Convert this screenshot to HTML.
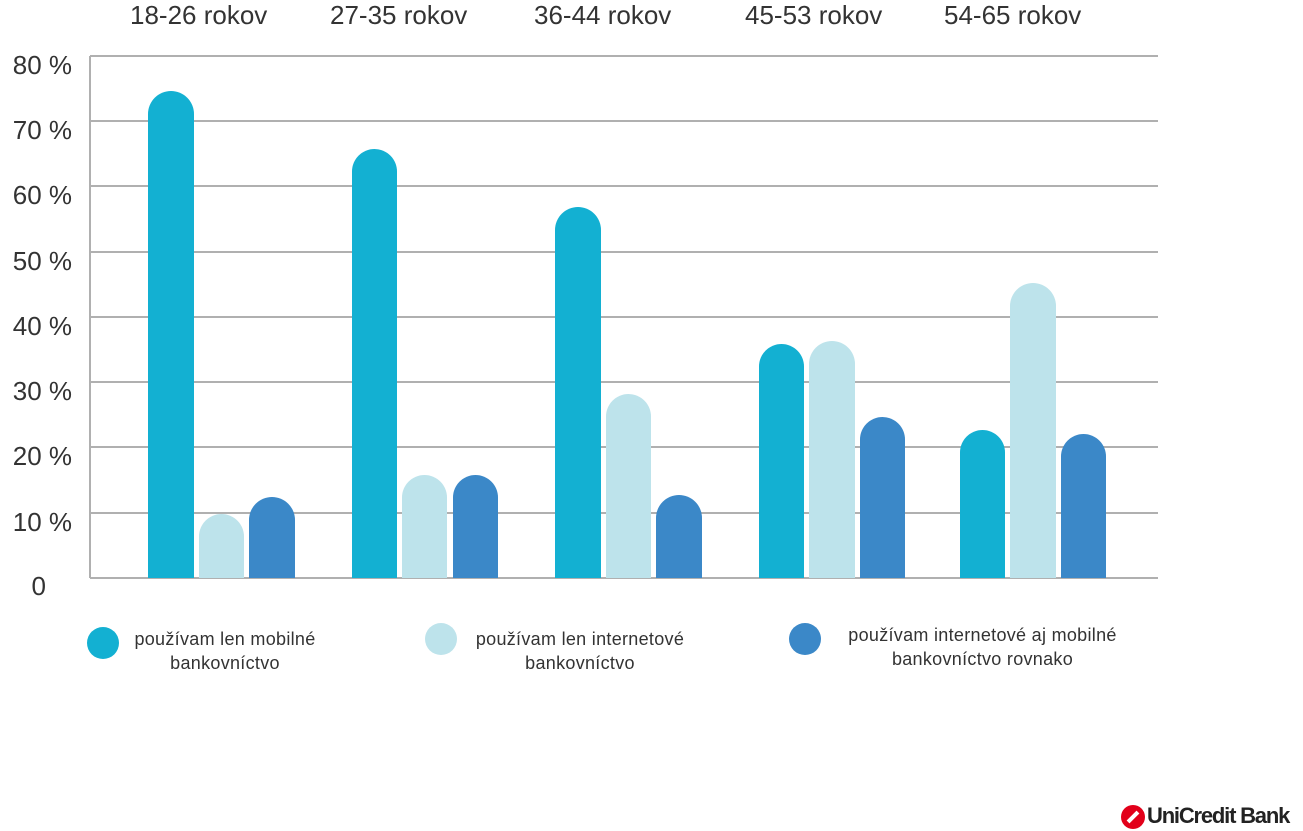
<!DOCTYPE html>
<html><head><meta charset="utf-8"><style>
body{margin:0;width:1303px;height:831px;background:#fff;position:relative;overflow:hidden;font-family:"Liberation Sans",sans-serif;color:#333}
.g{position:absolute;left:90px;width:1068px;height:0;border-top:2px solid #b0b0b0}
.yl{position:absolute;left:0;font-size:26px;width:72px;text-align:right;line-height:1}
.b{position:absolute;bottom:253px;border-radius:23px 23px 0 0}
.c1{background:#13b0d2}.c2{background:#bde3eb}.c3{background:#3b88c8}
.h{position:absolute;top:2px;font-size:26px;line-height:1;white-space:nowrap}
.lg{position:absolute;width:32px;height:32px;border-radius:50%}
.lt{position:absolute;font-size:18px;line-height:24px;text-align:center;white-space:nowrap;letter-spacing:0.3px}
</style></head><body>
<div class="h" style="left:130px">18-26 rokov</div>
<div class="h" style="left:330px">27-35 rokov</div>
<div class="h" style="left:534px">36-44 rokov</div>
<div class="h" style="left:745px">45-53 rokov</div>
<div class="h" style="left:944px">54-65 rokov</div>
<div style="position:absolute;left:89px;top:56px;height:522px;border-left:2px solid #b0b0b0"></div>
<div class="g" style="top:55px"></div><div class="g" style="top:120px"></div><div class="g" style="top:185px"></div><div class="g" style="top:251px"></div><div class="g" style="top:316px"></div><div class="g" style="top:381px"></div><div class="g" style="top:446px"></div><div class="g" style="top:512px"></div><div class="g" style="top:577px"></div>
<div class="yl" style="top:52px">80 %</div><div class="yl" style="top:117px">70 %</div><div class="yl" style="top:182px">60 %</div><div class="yl" style="top:248px">50 %</div><div class="yl" style="top:313px">40 %</div><div class="yl" style="top:378px">30 %</div><div class="yl" style="top:443px">20 %</div><div class="yl" style="top:509px">10 %</div><div class="yl" style="top:573px;left:-26px">0</div>
<div class="b c1" style="left:148px;width:46px;top:91px"></div>
<div class="b c2" style="left:199px;width:45px;top:514px"></div>
<div class="b c3" style="left:249px;width:46px;top:497px"></div>
<div class="b c1" style="left:352px;width:45px;top:149px"></div>
<div class="b c2" style="left:402px;width:45px;top:475px"></div>
<div class="b c3" style="left:453px;width:45px;top:475px"></div>
<div class="b c1" style="left:555px;width:46px;top:207px"></div>
<div class="b c2" style="left:606px;width:45px;top:394px"></div>
<div class="b c3" style="left:656px;width:46px;top:495px"></div>
<div class="b c1" style="left:759px;width:45px;top:344px"></div>
<div class="b c2" style="left:809px;width:46px;top:341px"></div>
<div class="b c3" style="left:860px;width:45px;top:417px"></div>
<div class="b c1" style="left:960px;width:45px;top:430px"></div>
<div class="b c2" style="left:1010px;width:46px;top:283px"></div>
<div class="b c3" style="left:1061px;width:45px;top:434px"></div>
<div class="lg c1" style="left:87px;top:627px"></div>
<div class="lt" style="left:120px;top:627px;width:210px">používam len mobilné<br>bankovníctvo</div>
<div class="lg c2" style="left:425px;top:623px"></div>
<div class="lt" style="left:460px;top:627px;width:240px">používam len internetové<br>bankovníctvo</div>
<div class="lg c3" style="left:789px;top:623px"></div>
<div class="lt" style="left:830px;top:623px;width:305px">používam internetové aj mobilné<br>bankovníctvo rovnako</div>
<div style="position:absolute;left:1121px;top:805px;width:24px;height:24px;border-radius:50%;background:#e2001a"></div>
<div style="position:absolute;left:1126px;top:815px;width:14px;height:4px;background:#fff;transform:rotate(-45deg)"></div>
<div style="position:absolute;left:1147px;top:805px;font-size:22px;font-weight:bold;letter-spacing:-1.2px;color:#222;white-space:nowrap;line-height:1">UniCredit Bank</div>
</body></html>
